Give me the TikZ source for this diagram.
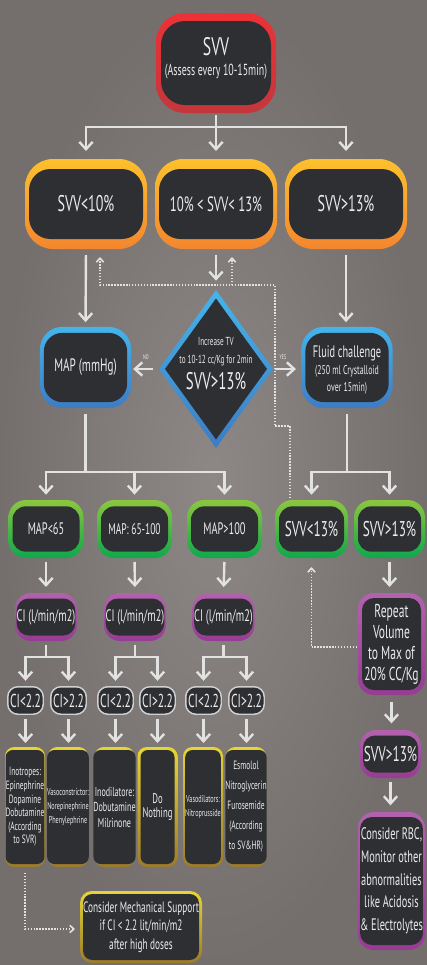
\documentclass[tikz,border=0pt]{standalone}
\usepackage{fontspec}
\setmainfont{PT Sans}[FakeStretch=0.62]
\usetikzlibrary{arrows.meta,shapes.geometric,calc}
\newcommand\fsz[2]{\fontsize{#1pt}{#2pt}\selectfont}
\definecolor{bgC}{RGB}{141,136,134}
\definecolor{bgE}{RGB}{116,111,109}
\definecolor{dk}{HTML}{2D2F32}
\definecolor{txt}{HTML}{ECECEC}
\definecolor{ln}{HTML}{E2E2E2}
\definecolor{redT}{HTML}{EC3237}
\definecolor{redB}{HTML}{C4363B}
\definecolor{orT}{HTML}{FDC02D}
\definecolor{orB}{HTML}{F3862F}
\definecolor{blT}{HTML}{45B4EA}
\definecolor{blB}{HTML}{3D7CC4}
\definecolor{grT}{HTML}{8CC63F}
\definecolor{grB}{HTML}{0EA84C}
\definecolor{puT}{HTML}{B362AE}
\definecolor{puB}{HTML}{963C93}
\definecolor{yeT}{HTML}{E6D534}
\definecolor{yeB}{HTML}{9B7B2B}
\definecolor{ciB}{HTML}{D0D0D0}
\tikzset{
 frame/.style={inner sep=0pt,outer sep=0pt,draw=none},
 core/.style={fill=dk,inner sep=0pt,outer sep=0pt,text=txt,align=center},
 txtn/.style={text=txt,inner sep=0pt,outer sep=0pt,align=center},
 orf/.style={frame,top color=orT,bottom color=orB,minimum width=91.5pt,minimum height=67.5pt,rounded corners=21pt},
 orc/.style={core,minimum width=85.5pt,minimum height=52.5pt,rounded corners=16pt,font=\fsz{17}{19}},
 blf/.style={frame,top color=blT,bottom color=blB,minimum width=68.5pt,minimum height=61pt,rounded corners=17pt},
 blc/.style={core,minimum width=62.5pt,minimum height=52pt,rounded corners=14pt},
 grf/.style={frame,top color=grT,bottom color=grB,minimum width=56.25pt,minimum height=43.5pt,rounded corners=13pt},
 grc/.style={core,minimum width=50.25pt,minimum height=34pt,rounded corners=10pt,font=\fsz{12.5}{15}},
 puf/.style={frame,top color=puT,bottom color=puB,rounded corners=12pt},
 puc/.style={core,rounded corners=9pt},
 yef/.style={frame,top color=yeT,bottom color=yeB,minimum width=30pt,minimum height=90pt,rounded corners=7pt},
 yec/.style={core,minimum width=25.5pt,minimum height=85.5pt,rounded corners=5.5pt},
 cib/.style={core,draw=ciB,line width=1.1pt,minimum width=26.6pt,minimum height=20.6pt,rounded corners=7.5pt,font=\fsz{14}{16}},
 line/.style={draw=ln,line width=1.8pt},
 arr/.style={line,-{Straight Barb[length=5.5pt,width=10pt]},shorten >=6pt},
 dots/.style={draw=ln,line width=1.2pt,dash pattern=on 1.1pt off 1.1pt,-{Straight Barb[length=3pt,width=5.5pt]}},
 lab/.style={text=txt,inner sep=0pt,font=\fsz{5}{6}}
}
\begin{document}
\begin{tikzpicture}[x=0.75pt,y=-0.75pt]
\shade[inner color=bgC,outer color=bgE] (0,0) rectangle (427,965);
\useasboundingbox (0,0) rectangle (427,965);

% ---- title
\node[frame,top color=redT,bottom color=redB,minimum width=90pt,minimum height=75pt,rounded corners=22pt] (svv) at (216,63) {};
\node[core,minimum width=82.5pt,minimum height=63pt,rounded corners=18pt] (svvc) at (svv.center) {};
\node[txtn,anchor=base,font=\fsz{19}{21}] (svvt1) at (216,55) {SVV};
\node[txtn,anchor=base,font=\fsz{12}{14}] (svvt2) at (216,75) {(Assess every 10-15min)};

% ---- orange row
\node[orf] (or1) at (86,204) {};
\node[orc] (or1c) at (or1.center) {SVV<10\%};
\node[orf] (or2) at (216,204) {};
\node[orc,font=\fsz{15.5}{18}] (or2c) at (or2.center) {10\% < SVV< 13\%};
\node[orf] (or3) at (346,204) {};
\node[orc] (or3c) at (or3.center) {SVV>13\%};

% ---- blue row
\node[blf] (map) at (85.5,367.5) {};
\node[blc,font=\fsz{13.5}{16}] (mapc) at (map.center) {MAP (mmHg)};
\node[frame,diamond,top color=blT,bottom color=blB,minimum width=85.5pt,minimum height=118.5pt] (dia) at (216,369) {};
\node[diamond,fill=dk,inner sep=0pt,outer sep=0pt,minimum width=76.5pt,minimum height=105.75pt] (diac) at (dia.center) {};
\node[txtn,anchor=base,font=\fsz{8.7}{10}] (dt1) at (216,345) {Increase TV};
\node[txtn,anchor=base,font=\fsz{8.7}{10}] (dt2) at (216,363) {to 10-12 cc/Kg for 2min};
\node[txtn,anchor=base,font=\fsz{18}{20}] (dt3) at (216,389) {SVV>13\%};
\node[blf] (flu) at (347,367.5) {};
\node[blc] (fluc) at (flu.center) {};
\node[txtn,anchor=base,font=\fsz{12.5}{14}] (ft1) at (347,357) {Fluid challenge};
\node[txtn,anchor=base,font=\fsz{9.5}{11}] (ft2) at (347,374) {(250 ml Crystalloid};
\node[txtn,anchor=base,font=\fsz{9.5}{11}] (ft3) at (347,391) {over 15min)};

% ---- green row
\node[grf] (g1) at (46,529) {};
\node[grc] (g1c) at (g1.center) {MAP<65};
\node[grf] (g2) at (134.5,529) {};
\node[grc,font=\fsz{11.5}{14}] (g2c) at (g2.center) {MAP: 65-100};
\node[grf] (g3) at (224.5,529) {};
\node[grc] (g3c) at (g3.center) {MAP>100};
\node[grf,minimum width=54.75pt] (g4) at (311.5,529) {};
\node[grc,minimum width=48.75pt,font=\fsz{16}{18}] (g4c) at (g4.center) {SVV<13\%};
\node[grf,minimum width=53.25pt] (g5) at (389.5,529) {};
\node[grc,minimum width=47.25pt,font=\fsz{16}{18}] (g5c) at (g5.center) {SVV>13\%};

% ---- purple CI
\node[puf,minimum width=46.5pt,minimum height=36pt] (ci1) at (46,617) {};
\node[puc,minimum width=42pt,minimum height=27.75pt,font=\fsz{12.5}{14}] (ci1c) at (ci1.center) {CI (l/min/m2)};
\node[puf,minimum width=46.5pt,minimum height=36pt] (ci2) at (135,617) {};
\node[puc,minimum width=42pt,minimum height=27.75pt,font=\fsz{12.5}{14}] (ci2c) at (ci2.center) {CI (l/min/m2)};
\node[puf,minimum width=46.5pt,minimum height=36pt] (ci3) at (223.5,617) {};
\node[puc,minimum width=42pt,minimum height=27.75pt,font=\fsz{12.5}{14}] (ci3c) at (ci3.center) {CI (l/min/m2)};

% ---- right column
\node[puf,minimum width=50.25pt,minimum height=76.5pt] (rv) at (391.5,644) {};
\node[puc,minimum width=44.25pt,minimum height=69pt,font=\fsz{14}{15.75}] (rvc) at (rv.center) {Repeat\\Volume\\to Max of\\20\% CC/Kg};
\node[puf,minimum width=45.75pt,minimum height=36pt] (s2) at (390.5,754) {};
\node[puc,minimum width=41.25pt,minimum height=27.75pt,font=\fsz{16}{18}] (s2c) at (s2.center) {SVV>13\%};
\node[puf,minimum width=50.25pt,minimum height=103.5pt] (rbc) at (391.5,881) {};
\node[puc,minimum width=44.25pt,minimum height=96pt,font=\fsz{12.5}{17}] (rbcc) at (rbc.center) {Consider RBC,\\Monitor other\\abnormalities\\like Acidosis\\\& Electrolytes};

% ---- CI split boxes
\node[cib] (c1) at (25.5,700.5) {CI<2.2};
\node[cib] (c2) at (68.5,700.5) {CI>2.2};
\node[cib] (c3) at (115.5,700.5) {CI<2.2};
\node[cib] (c4) at (157.5,700.5) {CI>2.2};
\node[cib] (c5) at (203.5,700.5) {CI<2.2};
\node[cib] (c6) at (246.5,700.5) {CI>2.2};

% ---- yellow boxes
\node[yef] (y1) at (25,807) {};
\node[yec,font=\fsz{9}{10.2}] (y1c) at (y1.center) {Inotropes:\\Epinephrine\\Dopamine\\Dobutamine\\(According\\to SVR)};
\node[yef] (y2) at (68,807) {};
\node[yec,font=\fsz{7.5}{10.5}] (y2c) at (y2.center) {Vasoconstrictor:\\Norepinephrine\\Phenylephrine};
\node[yef] (y3) at (114.5,807) {};
\node[yec,font=\fsz{9.75}{11.6}] (y3c) at (y3.center) {Inodilatore:\\Dobutamine\\Milrinone};
\node[yef] (y4) at (157.5,807) {};
\node[yec,font=\fsz{10.5}{10.5}] (y4c) at (y4.center) {Do\\Nothing};
\node[yef] (y5) at (203,807) {};
\node[yec,font=\fsz{7.5}{11}] (y5c) at (y5.center) {Vasodilators:\\Nitroprusside};
\node[yef] (y6) at (246,807) {};
\node[yec,font=\fsz{9}{15}] (y6c) at (y6.center) {Esmolol\\Nitroglycerin\\Furosemide\\(According\\to SV\&HR)};

% ---- mechanical support
\node[frame,top color=yeT,bottom color=yeB,minimum width=91.5pt,minimum height=54pt,rounded corners=9pt] (mech) at (141,927) {};
\node[core,minimum width=87pt,minimum height=49.5pt,rounded corners=7pt,font=\fsz{11.25}{13.9}] (mechc) at (mech.center) {Consider Mechanical Support\\if CI < 2.2 lit/min/m2\\after high doses};

% ---- connectors: top tree
\coordinate (j1) at (216,127);
\draw[line,shorten <=1.5pt] (svv.south) -- (j1);
\draw[arr] (j1) -| (or1.north);
\draw[arr] (j1) -- (or2.north);
\draw[arr] (j1) -| (or3.north);

% orange to row 3
\draw[arr,shorten <=4.5pt,shorten >=3.5pt] (or1.south) -- (map.north);
\draw[arr,shorten <=4.5pt,shorten >=7pt] (or2.south) -- (dia.north);
\draw[arr,shorten <=4.5pt,shorten >=3.5pt] (or3.south) -- (or3.south |- flu.north);

% NO / YES
\draw[arr,shorten <=4.5pt,shorten >=1.5pt] (dia.west) -- (dia.west -| map.east);
\draw[arr,shorten <=1.5pt,shorten >=4pt] (dia.east) -- (dia.east -| flu.west);
\node[lab] (nol) at (146,357) {NO};
\node[lab] (yesl) at (283,357) {YES};

% MAP tree
\coordinate (j2) at (85.5,472);
\draw[line,shorten <=4.5pt] (map.south) -- (j2);
\draw[arr,shorten >=4pt] (j2) -| (g1.north);
\draw[arr,shorten >=4pt] (j2) -| (g2.north);
\draw[arr,shorten >=4pt] (j2) -| (g3.north);
% fluid tree
\coordinate (j3) at (347,472);
\draw[line,shorten <=4.5pt] (flu.south) -- (j3);
\draw[arr,shorten >=4pt] (j3) -| (g4.north);
\draw[arr,shorten >=4pt] (j3) -| (g5.north);

% green to next
\draw[arr,shorten <=3pt,shorten >=4.5pt] (g1.south) -- (ci1.north);
\draw[arr,shorten <=3pt,shorten >=4.5pt] (g2.south) -- (ci2.north);
\draw[arr,shorten <=3pt,shorten >=4.5pt] (g3.south) -- (ci3.north);
\draw[arr,shorten <=3pt,shorten >=4.5pt] (g5.south) -- (g5.south |- rv.north);

% CI trees
\coordinate (k1) at (46,657);
\coordinate (k2) at (135,657);
\coordinate (k3) at (223.5,657);
\draw[line,shorten <=3pt] (ci1.south) -- (k1);
\draw[line,shorten <=3pt] (ci2.south) -- (k2);
\draw[line,shorten <=3pt] (ci3.south) -- (k3);
\draw[arr,shorten >=4.5pt] (k1) -| (c1.north);
\draw[arr,shorten >=4.5pt] (k1) -| (c2.north);
\draw[arr,shorten >=4.5pt] (k2) -| (c3.north);
\draw[arr,shorten >=4.5pt] (k2) -| (c4.north);
\draw[arr,shorten >=4.5pt] (k3) -| (c5.north);
\draw[arr,shorten >=4.5pt] (k3) -| (c6.north);

% CI boxes to yellow
\foreach \a/\b in {c1/y1,c2/y2,c3/y3,c4/y4,c5/y5,c6/y6}{
  \draw[arr,shorten <=3.5pt,shorten >=3pt] (\a.south) -- (\a.south |- \b.north);
}

% right column
\draw[arr,shorten <=5pt,shorten >=5pt] (rv.south) -- (rv.south |- s2.north);
\draw[arr,shorten <=3pt,shorten >=5pt] (s2.south) -- (s2.south |- rbc.north);

% dotted feedback
\coordinate (dj) at (232,285);
\draw[dots] ($(g4.north)+(-21.5,-2)$) -- (290,426) -- (275,426) -- (275,285) -- (100,285) -- ($(or1.south)+(14,8)$);
\draw[dots] (dj) -- ($(or2.south)+(16,8)$);
\draw[dots] ($(rv.west)+(-1,3)$) -| ($(g4.south)+(0,9)$);
\draw[dots] ($(y1.south)+(0,6)$) |- ($(mech.west)+(-5,2)$);
\end{tikzpicture}
\end{document}
